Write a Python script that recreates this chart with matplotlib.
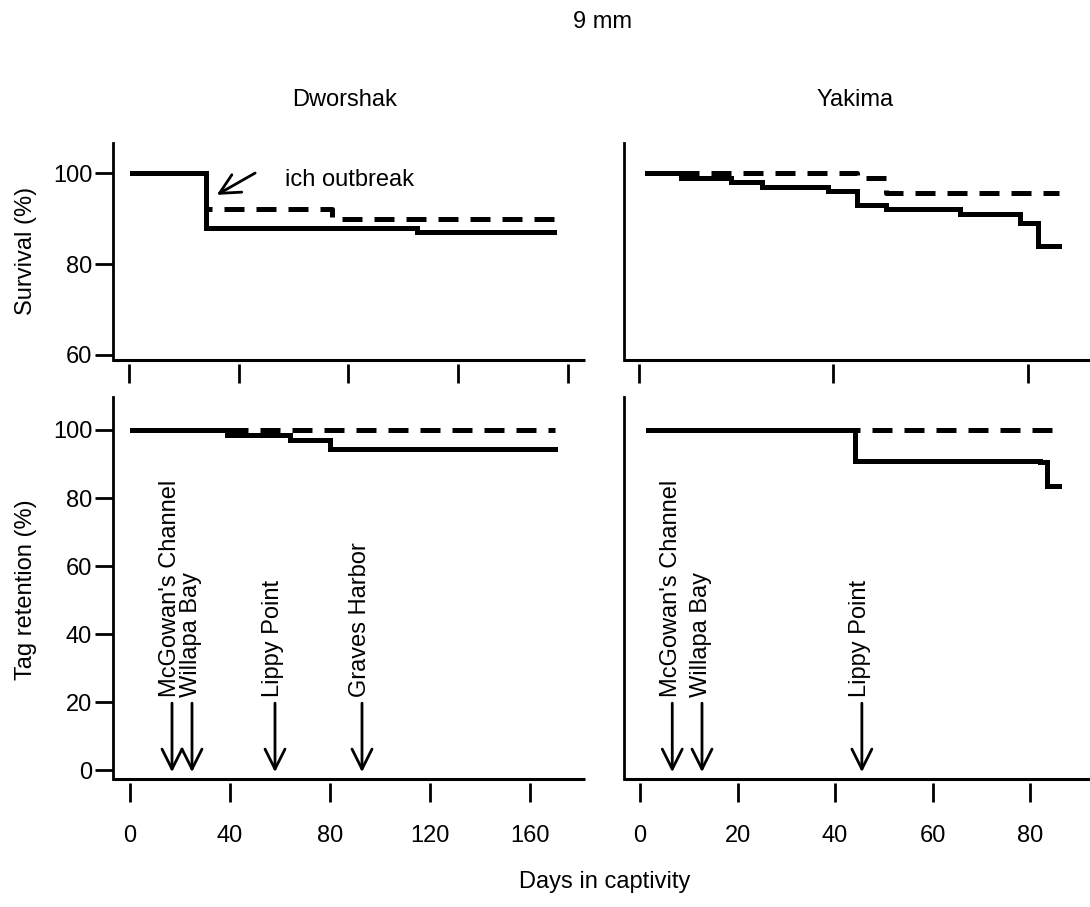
import matplotlib
matplotlib.use("Agg")
import matplotlib.pyplot as plt

plt.rcParams["font.family"] = ["Liberation Sans", "DejaVu Sans"]

# Dworshak survival (top left)
dw_surv_solid_day = [1, 28, 105, 155]
dw_surv_solid_pct = [100, 88, 87, 87]
dw_surv_dash_day = [1, 28, 74, 155]
dw_surv_dash_pct = [100, 92, 90, 90]

# Yakima survival (top right)
yk_surv_solid_day = [1.7, 8.7, 19, 25.4, 38.8, 44.8, 50.9, 66, 78.3, 82, 86.5]
yk_surv_solid_pct = [100, 99, 98, 97, 96, 93, 92, 91, 89, 84, 84]
yk_surv_dash_day = [1.7, 44.8, 50.9, 86.5]
yk_surv_dash_pct = [100, 99, 95.5, 95.5]

# Dworshak tag retention (bottom left)
dw_tag_solid_day = [0.8, 38.8, 64, 80, 170]
dw_tag_solid_pct = [100, 98.5, 97, 94.5, 94.5]
dw_tag_dash_day = [0.8, 170]
dw_tag_dash_pct = [100, 100]

# Yakima tag retention (bottom right)
yk_tag_solid_day = [1.6, 44.1, 82, 83.5, 86]
yk_tag_solid_pct = [100, 91, 90.5, 83.5, 83.5]
yk_tag_dash_day = [1.6, 84.7]
yk_tag_dash_pct = [100, 100]

# release sites
dw_sites = ["McGowan's Channel", "Willapa Bay", "Lippy Point", "Graves Harbor"]
dw_site_day = [16.8, 24.8, 58, 92.8]
yk_sites = ["McGowan's Channel", "Willapa Bay", "Lippy Point"]
yk_site_day = [6.6, 12.7, 45.5]

FS = 17
W, H = 1090, 907


def px_box(x0, x1, y0, y1):
    return [x0 / W, 1 - y1 / H, (x1 - x0) / W, (y1 - y0) / H]


fig = plt.figure(figsize=(W / 100, H / 100), dpi=100)
ax_tl = fig.add_axes(px_box(113, 585, 143, 360))
ax_tr = fig.add_axes(px_box(624, 1090, 143, 360))
ax_bl = fig.add_axes(px_box(113, 585, 397, 779))
ax_br = fig.add_axes(px_box(624, 1090, 397, 779))


def style(ax, show_y, show_xlabels):
    for s in ["top", "right", "bottom"]:
        ax.spines[s].set_visible(False)
    ax.spines["left"].set_linewidth(2)
    ax.spines["bottom"].set_position(("outward", 3))
    ax.plot([0, 1], [0, 0], transform=ax.transAxes, color="black", lw=2.2,
            clip_on=False, solid_capstyle="butt")
    ax.tick_params(axis="x", direction="out", length=14, width=2,
                   labelsize=FS, pad=16, labelbottom=show_xlabels)
    ax.tick_params(axis="y", direction="out", length=13, width=2,
                   labelsize=FS, pad=2, left=show_y, labelleft=show_y)


def curve(ax, d, p, dashed=False):
    kw = dict(color="black", lw=3.6, drawstyle="steps-post",
              solid_joinstyle="miter")
    if dashed:
        kw["dashes"] = (4, 2.4)
    ax.plot(d, p, **kw)


curve(ax_tl, dw_surv_dash_day, dw_surv_dash_pct, dashed=True)
curve(ax_tl, dw_surv_solid_day, dw_surv_solid_pct)
curve(ax_tr, yk_surv_dash_day, yk_surv_dash_pct, dashed=True)
curve(ax_tr, yk_surv_solid_day, yk_surv_solid_pct)
curve(ax_bl, dw_tag_dash_day, dw_tag_dash_pct, dashed=True)
curve(ax_bl, dw_tag_solid_day, dw_tag_solid_pct)
curve(ax_br, yk_tag_dash_day, yk_tag_dash_pct, dashed=True)
curve(ax_br, yk_tag_solid_day, yk_tag_solid_pct)

ax_tl.set_xlim(-5.8, 166.2)
ax_tl.set_xticks([0, 40, 80, 120, 160])
ax_tl.set_ylim(58.9, 106.6)
ax_tl.set_yticks([60, 80, 100])
ax_tr.set_xlim(-3.1, 92.8)
ax_tr.set_xticks([0, 40, 80])
ax_tr.set_ylim(58.9, 106.6)
ax_bl.set_xlim(-6.8, 182)
ax_bl.set_xticks([0, 40, 80, 120, 160])
ax_bl.set_ylim(-2.6, 109.7)
ax_bl.set_yticks([0, 20, 40, 60, 80, 100])
ax_br.set_xlim(-3.3, 92.3)
ax_br.set_xticks([0, 20, 40, 60, 80])
ax_br.set_ylim(-2.6, 109.7)

style(ax_tl, True, False)
style(ax_tr, False, False)
style(ax_bl, True, True)
style(ax_br, False, True)

arrow = dict(arrowstyle="->,head_length=0.8,head_width=0.4", lw=2,
             color="black", mutation_scale=18, shrinkA=0, shrinkB=0)

# ich outbreak note
ax_tl.annotate("", xy=(32, 95.2), xytext=(46, 100), arrowprops=arrow)
ax_tl.text(57, 98.5, "ich outbreak", fontsize=FS, va="center", ha="left")

for ax, names, days in [(ax_bl, dw_sites, dw_site_day),
                        (ax_br, yk_sites, yk_site_day)]:
    for name, d in zip(names, days):
        ax.annotate("", xy=(d, -0.6), xytext=(d, 19.7), arrowprops=arrow)
        ax.text(d - 0.3 if ax is ax_br else d - 0.6, 21.5, name, rotation=90,
                fontsize=FS, ha="center", va="bottom")

fig.text(603 / W, 1 - 22 / H, "9 mm", fontsize=FS, ha="center", va="center")
fig.text(345 / W, 1 - 100 / H, "Dworshak", fontsize=FS, ha="center", va="center")
fig.text(855 / W, 1 - 100 / H, "Yakima", fontsize=FS, ha="center", va="center")
fig.text(605 / W, 1 - 882 / H, "Days in captivity", fontsize=FS,
         ha="center", va="center")
fig.text(26 / W, 1 - 251 / H, "Survival (%)", fontsize=FS, rotation=90,
         ha="center", va="center")
fig.text(26 / W, 1 - 590 / H, "Tag retention (%)", fontsize=FS, rotation=90,
         ha="center", va="center")

fig.savefig("out.png", dpi=100)
plt.close(fig)
